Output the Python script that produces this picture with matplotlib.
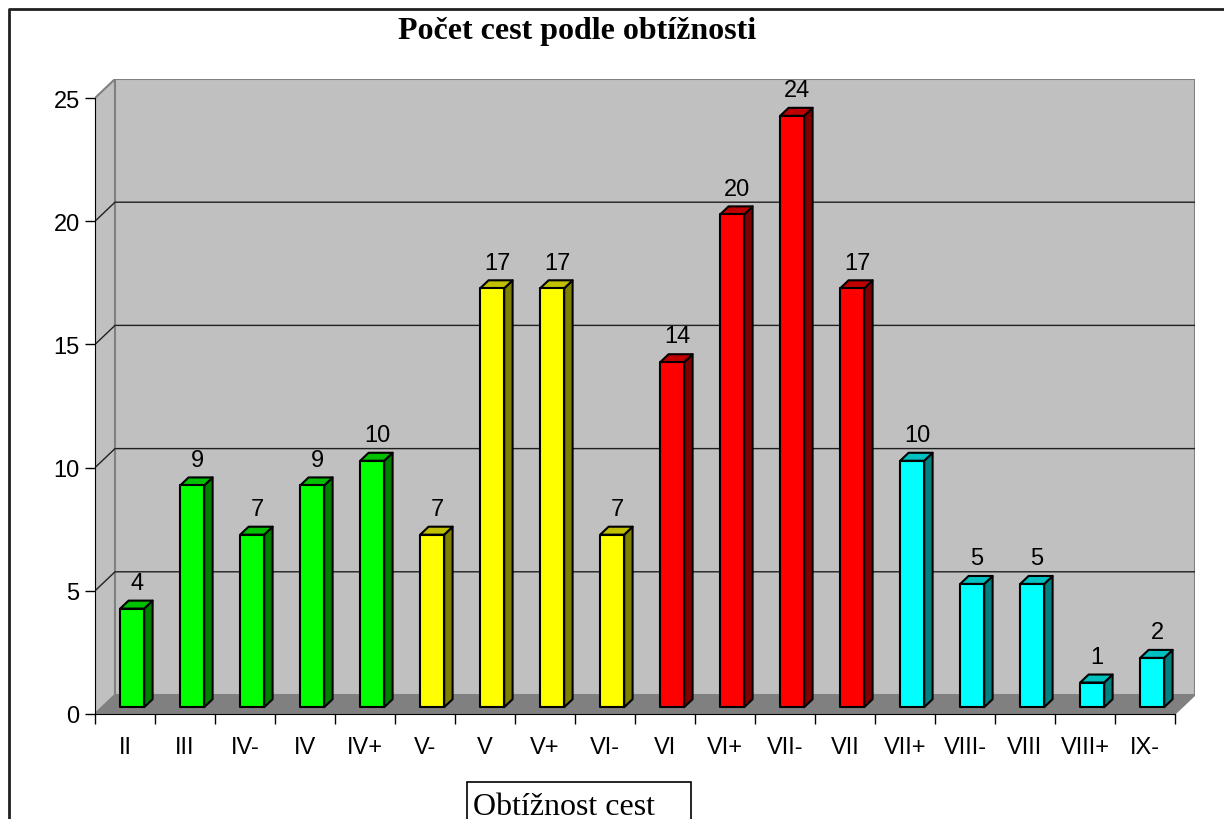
import matplotlib
matplotlib.use('Agg')
import matplotlib.pyplot as plt
from matplotlib.patches import Polygon, Rectangle

# ── data ────────────────────────────────────────────────────────────────
grades = ['II', 'III', 'IV-', 'IV', 'IV+', 'V-', 'V', 'V+', 'VI-', 'VI',
          'VI+', 'VII-', 'VII', 'VII+', 'VIII-', 'VIII', 'VIII+', 'IX-']
counts = [4, 9, 7, 9, 10, 7, 17, 17, 7, 14, 20, 24, 17, 10, 5, 5, 1, 2]
groups = ['green'] * 5 + ['yellow'] * 4 + ['red'] * 4 + ['cyan'] * 5
y_ticks = [0, 5, 10, 15, 20, 25]

title = 'Počet cest podle obtížnosti'
x_title = 'Obtížnost cest'

# front / side / top colours of each group
palette = {
    'green':  ('#00ff00', '#008000', '#00c000'),
    'yellow': ('#ffff00', '#808000', '#c0c000'),
    'red':    ('#ff0000', '#800000', '#c00000'),
    'cyan':   ('#00ffff', '#008080', '#00c0c0'),
}

LBL_FONT = ['Liberation Sans Narrow', 'Liberation Sans', 'DejaVu Sans']
LBL_SIZE = 17

W, H = 1224, 820
fig = plt.figure(figsize=(W / 100, H / 100), dpi=100)
fig.patch.set_facecolor('white')

# overlay in pixel coords for the frame, title and the axis-title box
ov = fig.add_axes([0, 0, 1, 1])
ov.set_xlim(0, W)
ov.set_ylim(H, 0)
ov.axis('off')
ov.plot([8.5, 8.5, W + 5], [H + 5, 10, 10], color='#202020', lw=2, clip_on=False)
ov.text(577, 31, title, ha='center', va='center', fontsize=23,
        fontweight='bold', family='Liberation Serif')
ov.add_patch(Rectangle((467, 783), 224, 60, facecolor='white',
                       edgecolor='black', lw=1.2, clip_on=False))
ov.text(473, 815, x_title, ha='left', va='baseline', fontsize=23,
        family='Liberation Serif')

# ── main 3-D-ish chart ──────────────────────────────────────────────────
n = len(grades)
ymax = y_ticks[-1]
DX, DY = 1 / 3, 19 / 24.64          # depth offset of the back wall (data units)
F0, F1 = 0.36, 0.78                 # front / back of the bars as depth fraction
BW = 0.4                            # bar width

ax = fig.add_axes([95 / W, (H - 715) / H, 1100 / W, 635 / H])
ax.set_xlim(0, n + DX)
ax.set_ylim(0, ymax + DY)
ax.patch.set_visible(False)

wall = '#c0c0c0'
edge = '#808080'
# side wall, back wall, floor
ax.add_patch(Polygon([(0, 0), (DX, DY), (DX, ymax + DY), (0, ymax)],
                     facecolor=wall, edgecolor=edge, lw=1.5, zorder=0))
ax.add_patch(Polygon([(DX, DY), (n + DX, DY), (n + DX, ymax + DY), (DX, ymax + DY)],
                     facecolor=wall, edgecolor=edge, lw=1.5, zorder=0))
ax.add_patch(Polygon([(0, 0), (n, 0), (n + DX, DY), (DX, DY)],
                     facecolor='#808080', edgecolor=edge, lw=1, zorder=0.5))

# grid lines on side and back wall
for v in y_ticks[1:-1]:
    ax.plot([0, DX, n + DX], [v, v + DY, v + DY], color='#202020', lw=1, zorder=0.6)

# bars
for i, (v, g) in enumerate(zip(counts, groups)):
    front, side, top = palette[g]
    x0 = i + 0.5 - BW / 2 + F0 * DX
    y0 = F0 * DY
    ddx, ddy = (F1 - F0) * DX, (F1 - F0) * DY
    ax.add_patch(Polygon([(x0 + BW, y0), (x0 + BW + ddx, y0 + ddy),
                          (x0 + BW + ddx, y0 + ddy + v), (x0 + BW, y0 + v)],
                         facecolor=side, edgecolor='black', lw=1.5, zorder=3,
                         joinstyle='round'))
    ax.add_patch(Polygon([(x0, y0 + v), (x0 + BW, y0 + v),
                          (x0 + BW + ddx, y0 + ddy + v), (x0 + ddx, y0 + ddy + v)],
                         facecolor=top, edgecolor='black', lw=1.5, zorder=3,
                         joinstyle='round'))
    ax.add_patch(Rectangle((x0, y0), BW, v, facecolor=front, edgecolor='black',
                           lw=1.5, zorder=4, joinstyle='round'))
    ax.text(x0 + BW / 2 + 0.08, y0 + v + 0.8, str(v), ha='center', va='baseline',
            fontsize=LBL_SIZE, family=LBL_FONT, zorder=5)

# axes, ticks and labels
for s in ('top', 'right'):
    ax.spines[s].set_visible(False)
ax.spines['left'].set_bounds(0, ymax)
ax.spines['bottom'].set_bounds(0, n)
ax.spines['left'].set_zorder(2)
ax.spines['bottom'].set_zorder(2)

ax.set_yticks(y_ticks)
ax.set_yticklabels([str(t) for t in y_ticks], family=LBL_FONT, fontsize=LBL_SIZE)
ax.tick_params(axis='y', direction='out', length=7, width=1, pad=4)

ax.set_xticks(range(n + 1))
ax.set_xticklabels([])
ax.set_xticks([i + 0.5 for i in range(n)], minor=True)
ax.set_xticklabels(grades, minor=True, family=LBL_FONT, fontsize=LBL_SIZE)
ax.tick_params(axis='x', which='major', direction='out', length=7, width=1)
ax.tick_params(axis='x', which='minor', length=0, pad=16)

fig.savefig('out.png', dpi=100, facecolor=fig.get_facecolor())
plt.close(fig)
